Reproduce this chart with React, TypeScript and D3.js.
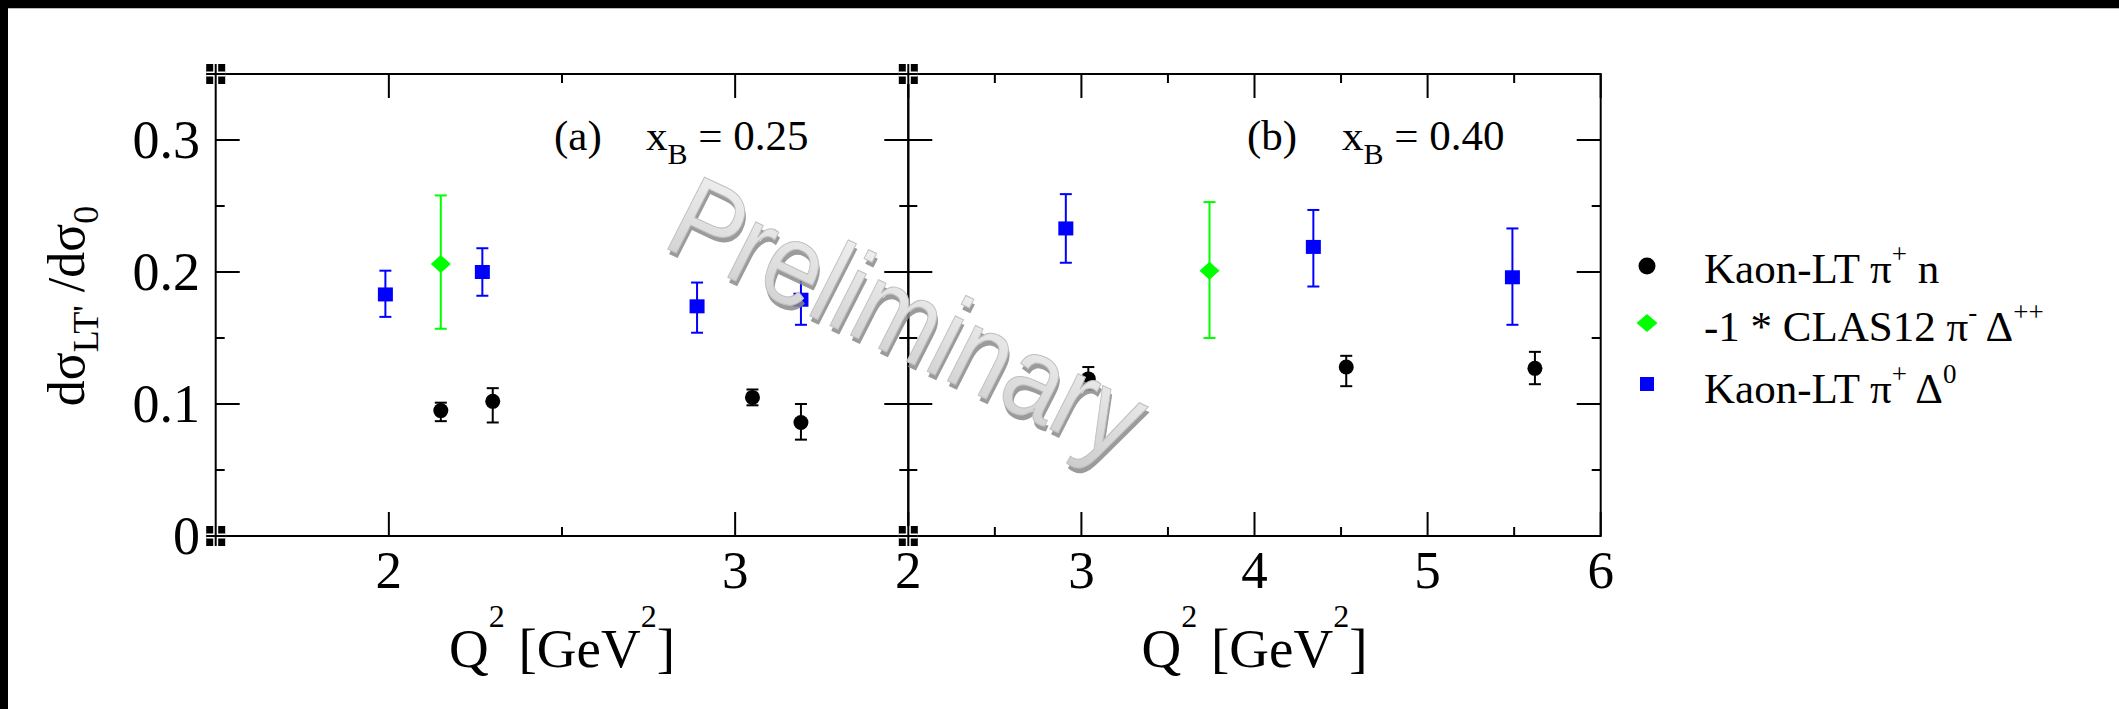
import React from 'react';
import * as d3 from 'd3';

// ---------- data ----------
const yDomain = [0, 0.35];
const yMajorTicks = [0, 0.1, 0.2, 0.3];
const yMinorTicks = [0.05, 0.15, 0.25];
const yTickLabels = ['0', '0.1', '0.2', '0.3'];

const panelAXDomain = [1.5, 3.5];
const panelAMajor = [2, 3];
const panelAMinor = [2.5];
const panelALabels = ['2', '3'];

const panelBXDomain = [2, 6];
const panelBMajor = [2, 3, 4, 5, 6];
const panelBMinor = [2.5, 3.5, 4.5, 5.5];
const panelBLabels = ['2', '3', '4', '5', '6'];

// panel (a) x_B = 0.25
const aPiN_q2 = [2.15, 2.30, 3.05, 3.19];
const aPiN_val = [0.095, 0.102, 0.105, 0.086];
const aPiN_lo = [0.087, 0.086, 0.099, 0.073];
const aPiN_hi = [0.101, 0.112, 0.111, 0.100];

const aClas_q2 = [2.15];
const aClas_val = [0.206];
const aClas_lo = [0.157];
const aClas_hi = [0.258];

const aPiD_q2 = [1.99, 2.27, 2.89, 3.19];
const aPiD_val = [0.183, 0.200, 0.174, 0.179];
const aPiD_lo = [0.166, 0.182, 0.154, 0.160];
const aPiD_hi = [0.201, 0.218, 0.192, 0.198];

// panel (b) x_B = 0.40
const bPiN_q2 = [3.04, 4.53, 5.62];
const bPiN_val = [0.119, 0.128, 0.127];
const bPiN_lo = [0.111, 0.1135, 0.115];
const bPiN_hi = [0.128, 0.1365, 0.1395];

const bClas_q2 = [3.74];
const bClas_val = [0.201];
const bClas_lo = [0.150];
const bClas_hi = [0.253];

const bPiD_q2 = [2.91, 4.34, 5.49];
const bPiD_val = [0.233, 0.219, 0.196];
const bPiD_lo = [0.207, 0.189, 0.160];
const bPiD_hi = [0.259, 0.247, 0.233];

// ---------- layout ----------
const W = 2119, H = 709;
const L = 215.7, M = 908.3, R = 1600.7, T = 74, B = 536;
const SERIF = '"Liberation Serif", "Times New Roman", serif';

const y = d3.scaleLinear().domain(yDomain).range([B, T]);
const xA = d3.scaleLinear().domain(panelAXDomain).range([L, M]);
const xB = d3.scaleLinear().domain(panelBXDomain).range([M, R]);

type Pt = { x: number; v: number; lo: number; hi: number };
const zip = (q: number[], v: number[], lo: number[], hi: number[]): Pt[] =>
  q.map((d, i) => ({ x: d, v: v[i], lo: lo[i], hi: hi[i] }));

const BLACK = '#000000', GREEN = '#00ff00', BLUE = '#0000ff';

function ErrBars({ pts, xs, color }: { pts: Pt[]; xs: d3.ScaleLinear<number, number>; color: string }) {
  return (
    <g stroke={color} strokeWidth={2} fill="none">
      {pts.map((p, i) => {
        const cx = xs(p.x);
        return (
          <g key={i}>
            <line x1={cx} x2={cx} y1={y(p.lo)} y2={y(p.hi)} />
            <line x1={cx - 6} x2={cx + 6} y1={y(p.lo)} y2={y(p.lo)} />
            <line x1={cx - 6} x2={cx + 6} y1={y(p.hi)} y2={y(p.hi)} />
          </g>
        );
      })}
    </g>
  );
}

function Squares({ pts, xs }: { pts: Pt[]; xs: d3.ScaleLinear<number, number> }) {
  return (
    <g>
      <ErrBars pts={pts} xs={xs} color={BLUE} />
      {pts.map((p, i) => (
        <rect key={i} x={xs(p.x) - 7.5} y={y(p.v) - 7} width={15} height={14} fill={BLUE} />
      ))}
    </g>
  );
}
function Diamonds({ pts, xs }: { pts: Pt[]; xs: d3.ScaleLinear<number, number> }) {
  return (
    <g>
      <ErrBars pts={pts} xs={xs} color={GREEN} />
      {pts.map((p, i) => {
        const cx = xs(p.x), cy = y(p.v);
        return <path key={i} d={`M${cx - 10},${cy} L${cx},${cy - 9} L${cx + 10},${cy} L${cx},${cy + 9} Z`} fill={GREEN} />;
      })}
    </g>
  );
}
function Circles({ pts, xs }: { pts: Pt[]; xs: d3.ScaleLinear<number, number> }) {
  return (
    <g>
      <ErrBars pts={pts} xs={xs} color={BLACK} />
      {pts.map((p, i) => (
        <circle key={i} cx={xs(p.x)} cy={y(p.v)} r={7.5} fill={BLACK} />
      ))}
    </g>
  );
}

function PanelFrame({ xs, major, minor }: any) {
  const [x0, x1] = xs.range();
  const els: any[] = [];
  major.forEach((t: number, i: number) => {
    const px = xs(t);
    els.push(<line key={'xb' + i} x1={px} x2={px} y1={B} y2={B - 24} />);
    els.push(<line key={'xt' + i} x1={px} x2={px} y1={T} y2={T + 24} />);
  });
  minor.forEach((t: number, i: number) => {
    const px = xs(t);
    els.push(<line key={'xbm' + i} x1={px} x2={px} y1={B} y2={B - 9} />);
    els.push(<line key={'xtm' + i} x1={px} x2={px} y1={T} y2={T + 9} />);
  });
  yMajorTicks.forEach((t, i) => {
    const py = y(t);
    els.push(<line key={'yl' + i} x1={x0} x2={x0 + 24} y1={py} y2={py} />);
    els.push(<line key={'yr' + i} x1={x1} x2={x1 - 24} y1={py} y2={py} />);
  });
  yMinorTicks.forEach((t, i) => {
    const py = y(t);
    els.push(<line key={'ylm' + i} x1={x0} x2={x0 + 9} y1={py} y2={py} />);
    els.push(<line key={'yrm' + i} x1={x1} x2={x1 - 9} y1={py} y2={py} />);
  });
  return (
    <g stroke="#000" strokeWidth={2} fill="none">
      <rect x={x0} y={T} width={x1 - x0} height={B - T} />
      {els}
    </g>
  );
}

function CornerMark({ cx, cy }: { cx: number; cy: number }) {
  return (
    <g>
      <rect x={cx - 9.5} y={cy - 10} width={19} height={20} fill="#000" />
      <line x1={cx - 9.5} x2={cx + 9.5} y1={cy} y2={cy} stroke="#fff" strokeWidth={5} />
      <line x1={cx} x2={cx} y1={cy - 10} y2={cy + 10} stroke="#fff" strokeWidth={5} />
      <line x1={cx - 9.5} x2={cx + 9.5} y1={cy} y2={cy} stroke="#000" strokeWidth={2} />
      <line x1={cx} x2={cx} y1={cy - 10} y2={cy + 10} stroke="#000" strokeWidth={2} />
    </g>
  );
}

function XTitle({ cx }: { cx: number }) {
  return (
    <text x={cx} y={667} textAnchor="middle" fontFamily={SERIF} fontSize={55} fill="#000">
      Q<tspan fontSize={32} dy={-40}>2</tspan>
      <tspan dy={40}> [GeV</tspan>
      <tspan fontSize={32} dy={-40}>2</tspan>
      <tspan dy={40}>]</tspan>
    </text>
  );
}

export default function App() {
  const aPiN = zip(aPiN_q2, aPiN_val, aPiN_lo, aPiN_hi);
  const aClas = zip(aClas_q2, aClas_val, aClas_lo, aClas_hi);
  const aPiD = zip(aPiD_q2, aPiD_val, aPiD_lo, aPiD_hi);
  const bPiN = zip(bPiN_q2, bPiN_val, bPiN_lo, bPiN_hi);
  const bClas = zip(bClas_q2, bClas_val, bClas_lo, bClas_hi);
  const bPiD = zip(bPiD_q2, bPiD_val, bPiD_lo, bPiD_hi);

  const legendRows = [268, 326, 386];
  const WM_FONT = '"Liberation Sans", Arial, sans-serif';

  return (
    <svg width={W} height={H} style={{ position: 'absolute', left: 0, top: 0, background: '#fff' }}>
      <defs>
        <linearGradient id="wm" x1="0" y1="0" x2="0" y2="1">
          <stop offset="0" stopColor="#f4f4f4" />
          <stop offset="1" stopColor="#cdcdcd" />
        </linearGradient>
      </defs>
      <rect x={0} y={0} width={W} height={H} fill="#fff" />
      {/* outer black borders */}
      <rect x={0} y={0} width={W} height={8} fill="#000" />
      <rect x={0} y={0} width={8} height={H} fill="#000" />
      <line x1={8} x2={W} y1={8.5} y2={8.5} stroke="#bbb" strokeWidth={1} />

      {/* frames */}
      <PanelFrame xs={xA} major={panelAMajor} minor={panelAMinor} />
      <PanelFrame xs={xB} major={panelBMajor} minor={panelBMinor} />

      {/* corner marks */}
      <CornerMark cx={L} cy={T} />
      <CornerMark cx={L} cy={B} />
      <CornerMark cx={M} cy={T} />
      <CornerMark cx={M} cy={B} />

      {/* y tick labels */}
      {yMajorTicks.map((t, i) => (
        <text key={i} x={200} y={y(t)} dy={18} textAnchor="end" fontFamily={SERIF} fontSize={54} fill="#000">
          {yTickLabels[i]}
        </text>
      ))}
      {/* x tick labels */}
      {panelAMajor.map((t, i) => (
        <text key={'a' + i} x={xA(t)} y={588} textAnchor="middle" fontFamily={SERIF} fontSize={53} fill="#000">
          {panelALabels[i]}
        </text>
      ))}
      {panelBMajor.map((t, i) => (
        <text key={'b' + i} x={xB(t)} y={588} textAnchor="middle" fontFamily={SERIF} fontSize={53} fill="#000">
          {panelBLabels[i]}
        </text>
      ))}

      {/* axis titles */}
      <XTitle cx={(L + M) / 2} />
      <XTitle cx={(M + R) / 2} />
      <text transform="translate(84,306) rotate(-90)" textAnchor="middle" fontFamily={SERIF} fontSize={52} fill="#000">
        dσ<tspan fontSize={36} dy={14}>LT'</tspan>
        <tspan dy={-14}> /dσ</tspan>
        <tspan fontSize={36} dy={14}>0</tspan>
      </text>

      {/* panel annotations */}
      <text x={554} y={150} fontFamily={SERIF} fontSize={43} fill="#000">(a)</text>
      <text x={646} y={150} fontFamily={SERIF} fontSize={43} fill="#000">
        x<tspan fontSize={30} dy={14}>B</tspan>
        <tspan dy={-14}> = 0.25</tspan>
      </text>
      <text x={1247} y={150} fontFamily={SERIF} fontSize={43} fill="#000">(b)</text>
      <text x={1342} y={150} fontFamily={SERIF} fontSize={43} fill="#000">
        x<tspan fontSize={30} dy={14}>B</tspan>
        <tspan dy={-14}> = 0.40</tspan>
      </text>

      {/* data */}
      <Squares pts={aPiD} xs={xA} />
      <Diamonds pts={aClas} xs={xA} />
      <Circles pts={aPiN} xs={xA} />
      <Squares pts={bPiD} xs={xB} />
      <Diamonds pts={bClas} xs={xB} />
      <Circles pts={bPiN} xs={xB} />

      {/* legend */}
      <circle cx={1647} cy={legendRows[0] - 2} r={8.5} fill={BLACK} />
      <path d={`M1636.5,${legendRows[1] - 3} l10.5,-9 l10.5,9 l-10.5,9 Z`} fill={GREEN} />
      <rect x={1640} y={legendRows[2] - 9} width={14} height={14} fill={BLUE} />
      <text x={1704} y={283} fontFamily={SERIF} fontSize={43} fill="#000">
        Kaon-LT π<tspan fontSize={27} dy={-20}>+</tspan>
        <tspan dy={20}> n</tspan>
      </text>
      <text x={1704} y={341} fontFamily={SERIF} fontSize={43} fill="#000">
        -1 * CLAS12 π<tspan fontSize={27} dy={-20}>-</tspan>
        <tspan dy={20}> Δ</tspan>
        <tspan fontSize={27} dy={-20}>++</tspan>
      </text>
      <text x={1704} y={403} fontFamily={SERIF} fontSize={43} fill="#000">
        Kaon-LT π<tspan fontSize={27} dy={-20}>+</tspan>
        <tspan dy={20}> Δ</tspan>
        <tspan fontSize={27} dy={-20}>0</tspan>
      </text>

      {/* watermark */}
      <g transform="translate(895,356) scale(0.88,1.08) rotate(21)">
        <text x={3} y={4} textAnchor="middle" fontFamily={WM_FONT} fontStyle="italic"
          fontSize={112} fill="#8a8a8a" opacity={0.85}>Preliminary</text>
        <text x={0} y={0} textAnchor="middle" fontFamily={WM_FONT} fontStyle="italic"
          fontSize={112} fill="url(#wm)" stroke="#c0c0c0" strokeWidth={1}>Preliminary</text>
      </g>
    </svg>
  );
}
